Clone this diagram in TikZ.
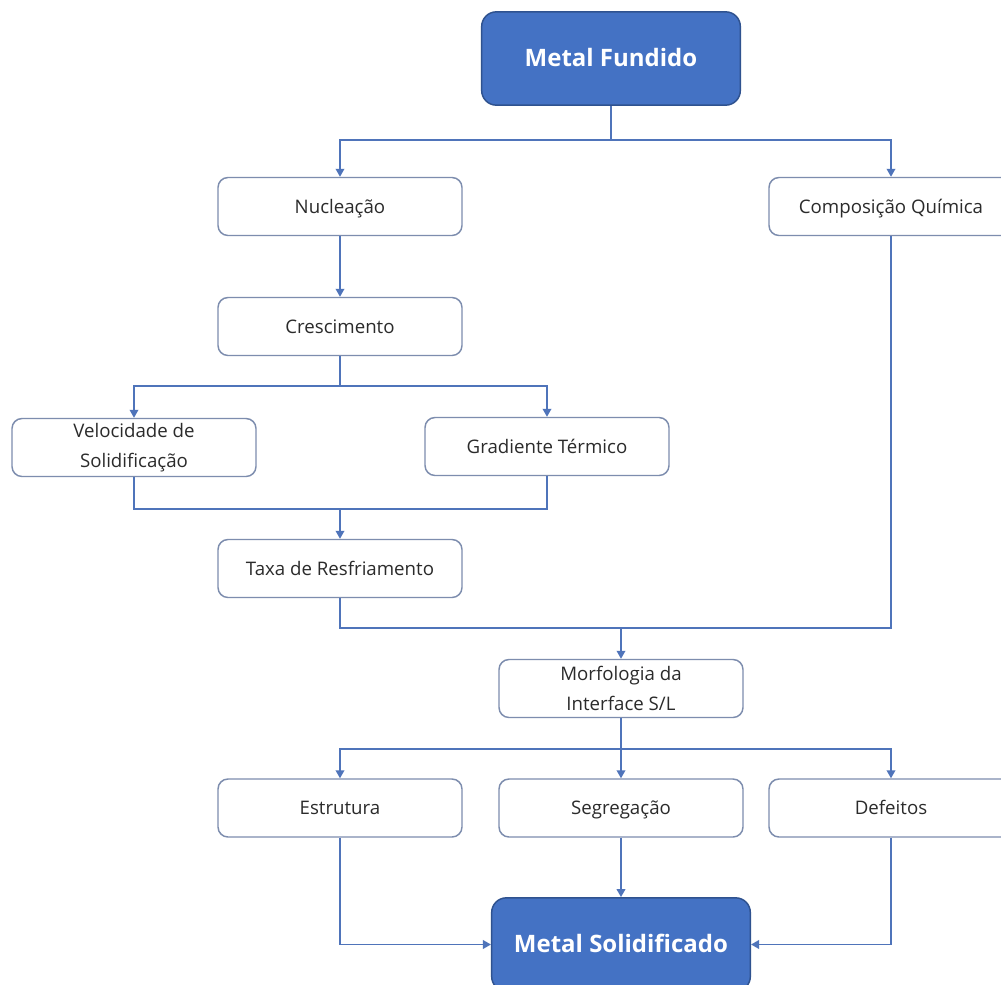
\documentclass[tikz,border=0pt]{standalone}
\usepackage{fontspec}
\setmainfont{Open Sans}
\usetikzlibrary{arrows.meta}
\definecolor{boxblue}{HTML}{4472C4}
\definecolor{boxedge}{HTML}{2F528F}
\definecolor{lightedge}{HTML}{7D8DAE}
\definecolor{linecol}{HTML}{4F74BA}
\definecolor{txt}{HTML}{2B2B2B}
\tikzset{
  wbox/.style={draw=lightedge, line width=1.1pt, fill=white, rounded corners=7.5pt,
    minimum width=183pt, minimum height=43.5pt, align=center, text=txt, inner sep=2pt,
    text height=12pt, text depth=2pt,
    font=\fontsize{14}{22}\selectfont},
  twoline/.style={text height={}, text depth={}},
  bbox/.style={draw=boxedge, line width=1.1pt, fill=boxblue, rounded corners=11pt,
    minimum width=194pt, minimum height=70pt, align=center, text=white,
    text height=14pt, text depth=2pt,
    font=\fontsize{18}{22}\selectfont\bfseries},
  conn/.style={draw=linecol, line width=1.2pt},
  arr/.style={conn, -{Triangle[length=6pt,width=6.5pt]}}
}
\begin{document}
\begin{tikzpicture}[x=0.75pt,y=-0.75pt]
\useasboundingbox (0,0) rectangle (1001,985);
\clip (0,0) rectangle (1001,985);
\fill[white] (0,0) rectangle (1001,985);

\node[bbox] (mf) at (611,58.5) {Metal Fundido};
\node[wbox] (nuc) at (340,206.5) {Nucleação};
\node[wbox] (comp) at (891,206.5) {Composição Química};
\node[wbox] (cresc) at (340,326.5) {Crescimento};
\node[wbox, twoline] (vel) at (134,447.5) {Velocidade de\\Solidificação};
\node[wbox] (grad) at (547,446.5) {Gradiente Térmico};
\node[wbox] (taxa) at (340,568.5) {Taxa de Resfriamento};
\node[wbox, twoline] (morf) at (621,688.5) {Morfologia da\\Interface S/L};
\node[wbox] (estr) at (340,808) {Estrutura};
\node[wbox] (seg) at (621,808) {Segregação};
\node[wbox] (def) at (891,808) {Defeitos};
\node[bbox] (ms) at (621,944.5) {Metal Solidificado};

\coordinate (j1) at (611,140);
\coordinate (j2) at (340,386);
\coordinate (j3) at (340,509);
\coordinate (j4) at (621,628);
\coordinate (j5) at (621,749);

\draw[conn] (mf.south) -- (j1);
\draw[arr] (j1) -| (nuc.north);
\draw[arr] (j1) -| (comp.north);
\draw[arr] (nuc) -- (cresc);
\draw[conn] (cresc.south) -- (j2);
\draw[arr] (j2) -| (vel.north);
\draw[arr] (j2) -| (grad.north);
\draw[conn] (vel.south) |- (j3);
\draw[conn] (grad.south) |- (j3);
\draw[arr] (j3) -- (taxa.north);
\draw[conn] (taxa.south) |- (j4);
\draw[conn] (comp.south) |- (j4);
\draw[arr] (j4) -- (morf.north);
\draw[conn] (morf.south) -- (j5);
\draw[arr] (j5) -| (estr.north);
\draw[arr] (j5) -- (seg.north);
\draw[arr] (j5) -| (def.north);
\draw[arr] (estr.south) |- (ms.west);
\draw[arr] (seg.south) -- (ms.north);
\draw[arr] (def.south) |- (ms.east);
\end{tikzpicture}
\end{document}
